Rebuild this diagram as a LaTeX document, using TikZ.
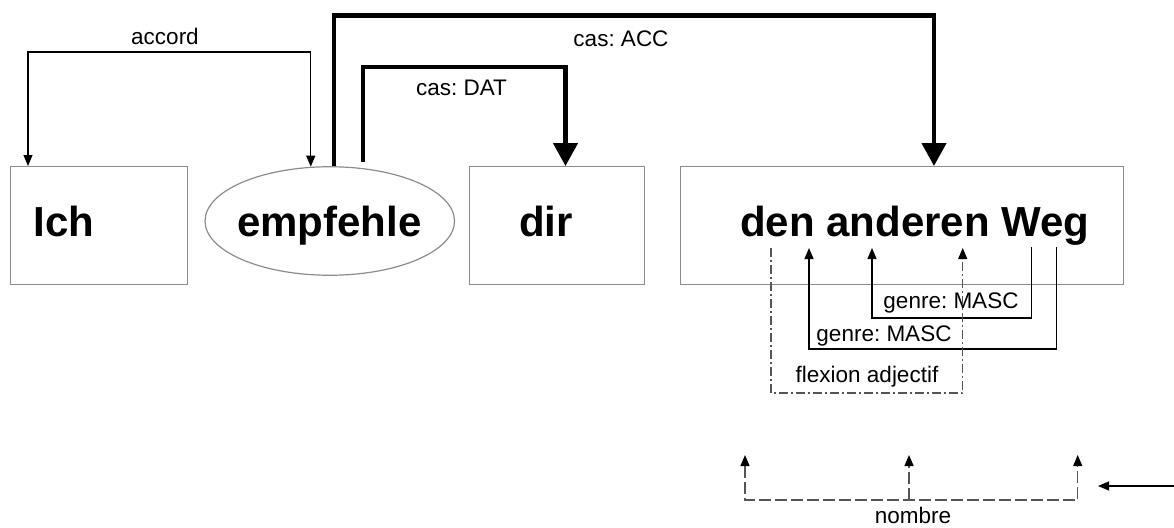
\documentclass[tikz,border=0pt]{standalone}
\usepackage{fontspec}
\setmainfont{Liberation Sans}
\usetikzlibrary{arrows.meta,calc,shapes.geometric}
\frenchspacing
\definecolor{boxgray}{HTML}{8C8C8C}
\definecolor{dashgray}{HTML}{555555}
\tikzset{
  wordbox/.style={draw=boxgray, line width=1.2pt, rectangle, inner sep=0pt, anchor=north west},
  wordtext/.style={font=\bfseries\fontsize{42}{42}\selectfont, anchor=base west, inner sep=0pt},
  lbl/.style={font=\fontsize{22.5}{23}\selectfont, anchor=base, inner sep=0pt},
  thintip/.tip={Triangle[width=9pt,length=11pt,color=black]},
  bigtip/.tip={Triangle[width=24pt,length=23pt]},
  thinarrow/.style={line width=1.2pt, -thintip},
  thickarrow/.style={line width=4.5pt, -bigtip},
  dashdotline/.style={draw=dashgray, line width=1.2pt, dash pattern=on 9pt off 3pt on 2pt off 3pt},
  dashline/.style={draw=dashgray, line width=1.3pt, dash pattern=on 12pt off 4pt},
}
\begin{document}
\begin{tikzpicture}[x=1pt,y=-1pt]
\useasboundingbox (0,0) rectangle (1174,527);

% word boxes
\node[wordbox, minimum width=177pt, minimum height=118pt] (ich) at (10,166) {};
\node[draw=boxgray, line width=1.2pt, ellipse, inner sep=0pt,
      minimum width=249.5pt, minimum height=108.5pt] (emp) at (329.75,221) {};
\node[wordbox, minimum width=175.5pt, minimum height=118pt] (dir) at (468.5,166) {};
\node[wordbox, minimum width=443pt, minimum height=118pt] (weg) at (680,166) {};

% words
\node[wordtext] (tich) at (33.5,236) {Ich};
\node[wordtext] (temp) at (237,236) {empfehle};
\node[wordtext] (tdir) at (519,236) {dir};
\node[wordtext] (tweg) at (740,236) {den anderen Weg};

% agreement between subject and verb
\draw[line width=1.2pt, thintip-thintip] ($(ich.north west)+(18,0)$) -- ++(0,-114)
  -| ($(emp.north)+(-19,0.5)$);
\node[lbl] (laccord) at (165,45) {accord};

% case government
\draw[thickarrow] ($(emp.north)+(4,0)$) -- ++(0,-150.5) -| ($(weg.north west)+(254,0)$);
\node[lbl] (lacc) at (621,46) {cas: ACC};
\draw[thickarrow] ($(emp.north)+(33,-4)$) -- ++(0,-95) -| ($(dir.north west)+(97,0)$);
\node[lbl] (ldat) at (461.5,95) {cas: DAT};

% anchor points under the noun phrase
\coordinate (den1) at (771,248);
\coordinate (den2) at (809,248);
\coordinate (and1) at (872,248);
\coordinate (and2) at (962.7,248);
\coordinate (weg1) at (1031.7,247);
\coordinate (weg2) at (1056.7,247);

% gender agreement
\draw[thinarrow] (weg1) -- ++(0,71) -| (and1);
\node[lbl] (lg1) at (951,308) {genre: MASC};
\draw[thinarrow] (weg2) -- ++(0,102) -| (den2);
\node[lbl] (lg2) at (884,341.5) {genre: MASC};

% adjective inflection
\draw[dashdotline, -thintip] (den1) -- ++(0,145) -| (and2);
\node[lbl] (lflex) at (867,382.5) {flexion adjectif};

% number agreement
\coordinate (n1) at (745,455);
\coordinate (n2) at (909,455);
\coordinate (n3) at (1077.7,455);
\coordinate (nin) at (1174,486);
\coordinate (nend) at (1098,486);
\draw[dashline, thintip-thintip] (n1) -- ++(0,45) -| (n3);
\draw[dashline, -thintip] ($(n2)+(0,45)$) -- (n2);
\draw[thinarrow] (nin) -- (nend);
\node[lbl] (lnombre) at (913,523) {nombre};
\end{tikzpicture}
\end{document}
